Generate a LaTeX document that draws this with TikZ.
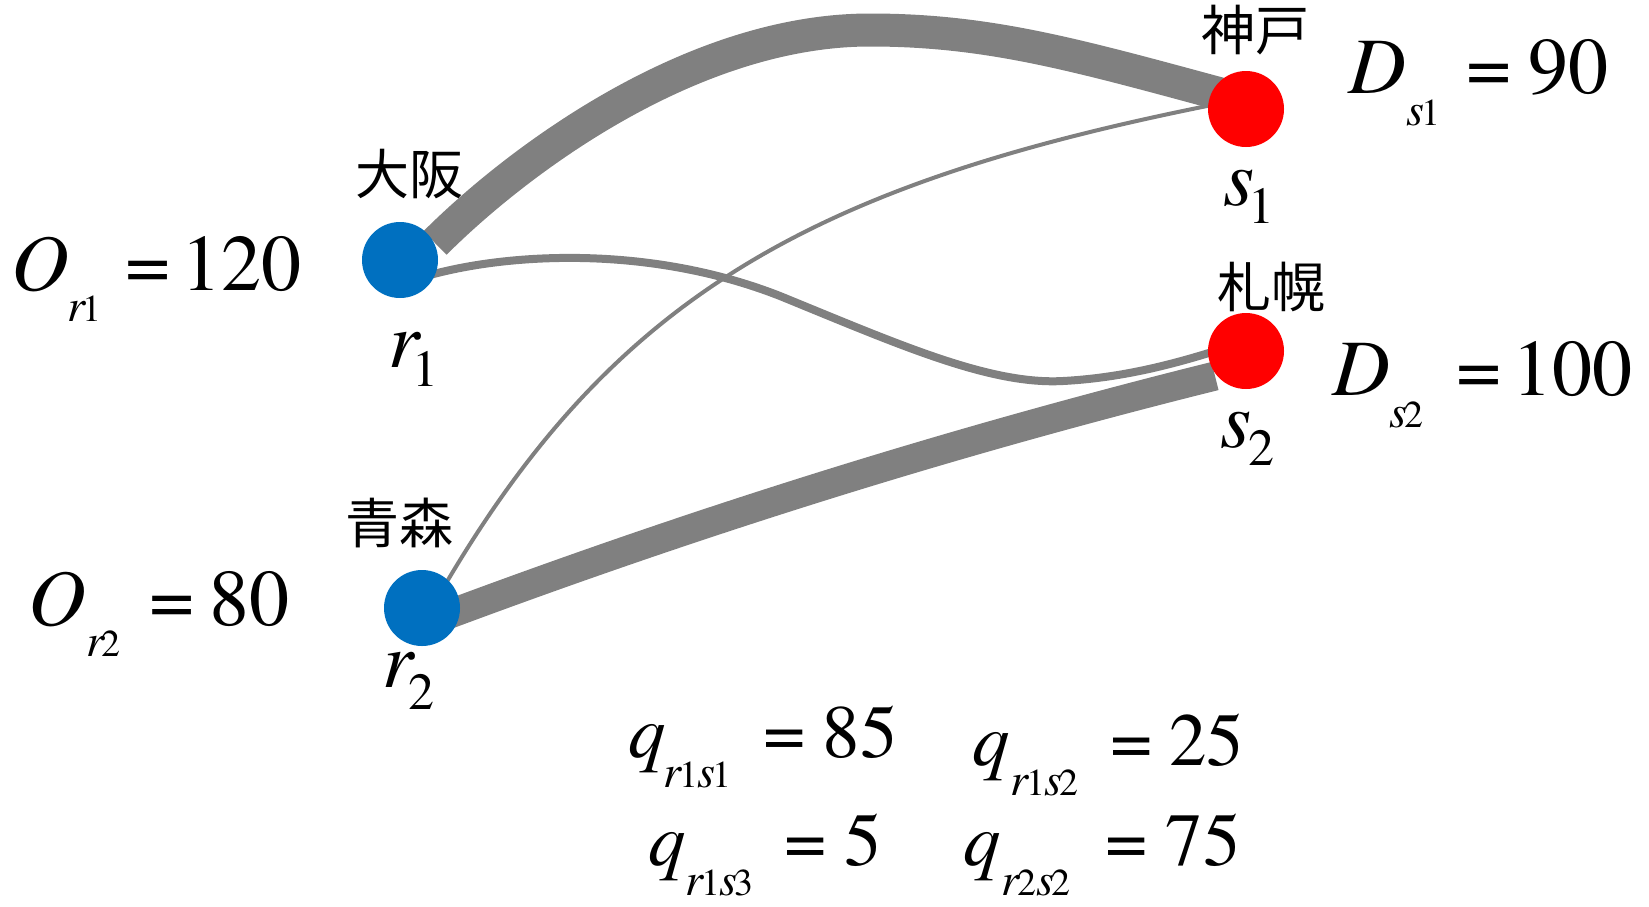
\documentclass[tikz,border=0pt]{standalone}
\usepackage{fontspec}
\setmainfont{TeX Gyre Termes}
\newfontfamily\jpfont{Noto Sans CJK JP}
\usetikzlibrary{calc}
\newcommand{\fsz}[1]{\fontsize{#1}{#1}\selectfont}
\definecolor{flowgray}{HTML}{808080}
\definecolor{oblue}{HTML}{0070C0}
\definecolor{dred}{HTML}{FF0000}
\begin{document}
\begin{tikzpicture}[x=1pt,y=-1pt,
  flow/.style={draw=flowgray, line cap=butt},
  casing/.style={draw=white, line cap=butt},
  origin/.style={circle, fill=oblue, minimum size=76pt, inner sep=0pt},
  dest/.style={circle, fill=dred, minimum size=76pt, inner sep=0pt},
  lbl/.style={anchor=base west, inner sep=0pt, font=\rmfamily\fsz{80}},
  qlbl/.style={anchor=base west, inner sep=0pt, font=\rmfamily\fsz{75}},
  city/.style={anchor=center, inner sep=0pt, font=\jpfont\fsz{54}}]
\useasboundingbox (0,0) rectangle (1649,906);
% node positions
\coordinate (r1) at (400,260);
\coordinate (r2) at (422,608);
\coordinate (s1) at (1246,109);
\coordinate (s2) at (1246,351);
% flows
\draw[flow, line width=33pt] ($(r1)+(35,-17)$) .. controls (515,163) and (690,30) .. (870,30)
      .. controls (990,30) and (1078,55.5) .. ($(s1)+(-18,-13)$);
\draw[flow, line width=29pt] ($(r2)+(25,7)$) .. controls (707,518) and (958,440) .. ($(s2)+(-31,25)$);
\draw[flow, line width=4pt] ($(r2)+(23,-23)$) .. controls (615,296) and (812,185) .. ($(s1)+(-34,-4)$);
\draw[casing, line width=11pt] (1063,381) .. controls (1120,378) and (1170,365) .. ($(s2)+(-34,1)$);
\draw[flow, line width=8pt] ($(r1)+(30,15)$) .. controls (510,253) and (650,245) .. (780,296)
      .. controls (900,345) and (990,385) .. (1063,381)
      .. controls (1120,378) and (1170,365) .. ($(s2)+(-34,1)$);
% circles
\node[origin] (R1) at (r1) {};
\node[origin] (R2) at (r2) {};
\node[dest] (S1) at (s1) {};
\node[dest] (S2) at (s2) {};
% city names
\node[city] (osaka) at (409,174) {大阪};
\node[city] (aomori) at (399,523) {青森};
\node[city] (kobe) at (1255,30) {神戸};
\node[city] (sapporo) at (1271,287) {札幌};
% node labels
\node[lbl] (lr1) at (388,367) {\textit{r}\hspace{-9pt}\raisebox{-19pt}{\fsz{52}1}};
\node[lbl] (lr2) at (382,687) {\textit{r}\hspace{-7pt}\raisebox{-22pt}{\fsz{52}2}};
\node[lbl] (ls1) at (1223,205) {\textit{s}\hspace{-6pt}\raisebox{-18pt}{\fsz{52}1}};
\node[lbl] (ls2) at (1220,447) {\textit{s}\hspace{-3pt}\raisebox{-18pt}{\fsz{52}2}};
% supply / demand
\node[lbl] (Or1) at (11,290) {\textit{O}\hspace{-1pt}\raisebox{-31pt}{\fsz{46}\textit{r}\hspace{-4pt}\fsz{38}1}\hspace{24pt}=\hspace{10.7pt}120};
\node[lbl] (Or2) at (28,625) {\textit{O}\hspace{1pt}\raisebox{-31pt}{\fsz{46}\textit{r}\hspace{-4pt}\fsz{38}2}\hspace{29pt}=\hspace{14.3pt}80};
\node[lbl] (Ds1) at (1348,93) {\textit{D}\hspace{1pt}\raisebox{-32pt}{\fsz{46}\textit{s}\hspace{-3pt}\fsz{38}1}\hspace{26pt}=\hspace{16.8pt}90};
\node[lbl] (Ds2) at (1332,395) {\textit{D}\raisebox{-32pt}{\fsz{46}\textit{s}\hspace{-3pt}\fsz{38}2}\hspace{33pt}=\hspace{10.7pt}100};
% flow values
\node[qlbl] (q11) at (628,757) {\textit{q}\hspace{-2.5pt}\raisebox{-30pt}{\fsz{46}\textit{r}\hspace{-3pt}\fsz{38}1\hspace{-1pt}\fsz{46}\textit{s}\hspace{-3pt}\fsz{38}1}\hspace{32.5pt}=\hspace{17pt}85};
\node[qlbl] (q12) at (972,765) {\textit{q}\hspace{0.5pt}\raisebox{-30pt}{\fsz{46}\textit{r}\hspace{-3pt}\fsz{38}1\hspace{-1pt}\fsz{46}\textit{s}\hspace{-3pt}\fsz{38}2}\hspace{32pt}=\hspace{16.7pt}25};
\node[qlbl] (q13) at (648,865) {\textit{q}\raisebox{-30pt}{\fsz{46}\textit{r}\hspace{-3pt}\fsz{38}1\hspace{-1pt}\fsz{46}\textit{s}\hspace{-3pt}\fsz{38}3}\hspace{30.7pt}=\hspace{17.7pt}5};
\node[qlbl] (q22) at (963,865) {\textit{q}\hspace{1pt}\raisebox{-30pt}{\fsz{46}\textit{r}\hspace{-3pt}\fsz{38}2\fsz{46}\textit{s}\hspace{-3pt}\fsz{38}2}\hspace{35pt}=\hspace{18pt}75};
\end{tikzpicture}
\end{document}
